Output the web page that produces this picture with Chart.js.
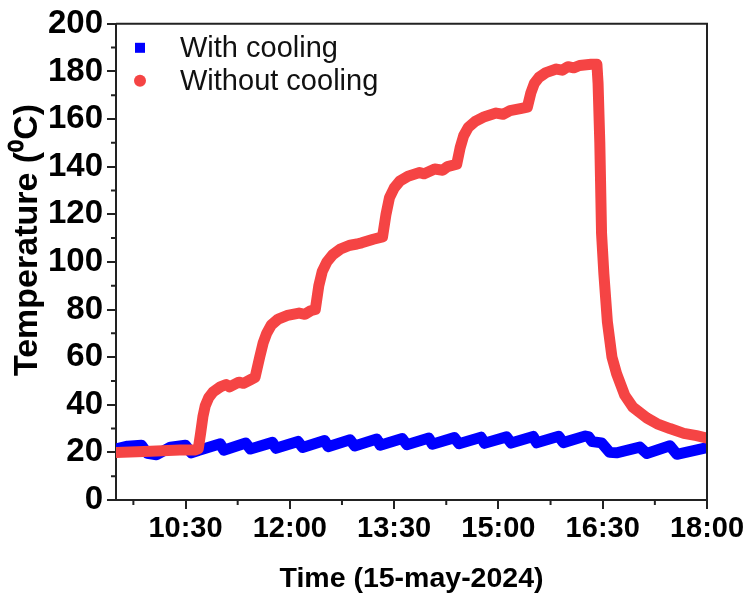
<!DOCTYPE html>
<html><head><meta charset="utf-8">
<script src="https://cdn.jsdelivr.net/npm/chart.js@4/dist/chart.umd.min.js"></script>
<style>html,body{margin:0;padding:0;background:#fff}</style>
</head><body>
<canvas id="c" width="751" height="596" style="width:751px;height:596px;display:block"></canvas>
<script>
// ---- data (time in minutes after midnight, temperature in °C) ----
const seriesNames = ['With cooling', 'Without cooling'];
const xTickValues = [630, 720, 810, 900, 990, 1080];      // 10:30 ... 18:00
const xMinorValues = [585, 675, 765, 855, 945, 1035];
const yMinorValues = [10, 30, 50, 70, 90, 110, 130, 150, 170, 190];
const xTitle = 'Time (15-may-2024)';
const yTitle = 'Temperature (\u2070C)';

const coolTimes = [570, 580, 592, 597, 605, 617, 630, 635, 641, 660, 663, 682, 686, 705, 708, 727, 731, 750, 753, 772, 776, 795, 798, 817, 821, 840, 843, 862, 866, 885, 888, 907, 911, 930, 933, 952, 956, 975, 978, 981, 989, 996, 1002, 1022, 1028, 1048, 1054, 1080];
const coolTemps = [21.5, 22.6, 23.0, 19.6, 19.0, 22.2, 23.0, 19.8, 20.8, 23.6, 20.9, 23.9, 21.4, 24.2, 21.7, 24.6, 22.1, 25.0, 22.4, 25.3, 22.7, 25.6, 23.0, 25.8, 23.2, 26.0, 23.4, 26.2, 23.6, 26.4, 23.8, 26.5, 23.9, 26.7, 24.0, 26.8, 24.1, 26.9, 26.5, 24.5, 24.0, 20.0, 19.8, 22.2, 19.5, 22.8, 19.2, 22.0];

const hotTimes = [570, 600, 625, 638, 641, 643, 645, 647, 650, 654, 660, 665, 668, 676, 680, 686, 690,
  694, 697, 700, 704, 710, 718, 728, 733, 738, 742,
  745, 748, 752, 757, 764, 772, 778, 782, 792, 800,
  803, 806, 810, 815, 822, 832, 836, 845, 852, 856, 864,
  867, 870, 874, 880, 888, 898, 904, 910, 920, 925,
  928, 931, 935, 941, 950, 955, 960, 965, 970, 980, 985,
  986, 987.5, 989, 991, 994, 998, 1002, 1009, 1016, 1028, 1037, 1048, 1060, 1071, 1080];
const hotTemps = [20.0, 20.5, 21.0, 21.0, 21.5, 28.0, 35.0, 39.5, 43.0, 45.5, 47.5, 48.5, 47.5, 49.5, 49.0, 50.5, 51.5,
  60.0, 66.0, 70.0, 73.5, 76.0, 77.5, 78.5, 78.0, 79.5, 80.0,
  90.0, 96.0, 100.0, 103.0, 105.5, 107.0, 107.5, 108.0, 109.5, 110.5,
  120.0, 127.0, 131.0, 134.0, 136.0, 137.5, 137.0, 139.0, 138.5, 140.0, 141.0,
  148.0, 153.0, 156.5, 159.0, 161.0, 162.5, 162.0, 163.5, 164.5, 165.0,
  171.0, 175.0, 177.5, 179.5, 181.0, 180.5, 182.0, 181.5, 182.5, 183.0, 183.0,
  175.0, 150.0, 112.0, 95.0, 75.0, 60.0, 53.0, 44.0, 39.0, 34.5, 32.0, 30.0, 28.0, 27.0, 26.0];

const coolColor = '#0000FF';
const hotColor = '#F54444';

function fmtTime(m) {
  const h = Math.floor(m / 60), mm = m % 60;
  return h + ':' + (mm < 10 ? '0' : '') + mm;
}
function pts(xs, ys) { return xs.map((x, i) => ({ x: x, y: ys[i] })); }

const FONT = "'Liberation Sans', Arial, sans-serif";

const framePlugin = {
  id: 'frame',
  afterDatasetsDraw(chart) {
    const ctx = chart.ctx, a = chart.chartArea;
    const xs = chart.scales.x, ys = chart.scales.y;
    ctx.save();
    ctx.strokeStyle = '#222';
    ctx.lineWidth = 2;
    ctx.beginPath();
    ctx.moveTo(a.left, a.top); ctx.lineTo(a.right, a.top); ctx.lineTo(a.right, a.bottom);
    ctx.stroke();
    ctx.beginPath();
    xMinorValues.forEach(v => { const p = xs.getPixelForValue(v); ctx.moveTo(p, a.bottom); ctx.lineTo(p, a.bottom + 5); });
    yMinorValues.forEach(v => { const p = ys.getPixelForValue(v); ctx.moveTo(a.left, p); ctx.lineTo(a.left - 5, p); });
    ctx.stroke();
    // legend
    ctx.font = '29px ' + FONT;
    ctx.textBaseline = 'middle';
    ctx.textAlign = 'left';
    const lx = a.left + 24, tx = a.left + 64;
    const y1 = a.top + 24, y2 = a.top + 57;
    ctx.fillStyle = coolColor;
    ctx.fillRect(lx - 5, y1 - 5, 10, 10);
    ctx.fillStyle = hotColor;
    ctx.beginPath(); ctx.arc(lx, y2, 6, 0, Math.PI * 2); ctx.fill();
    ctx.fillStyle = '#111';
    ctx.fillText(seriesNames[0], tx, y1 + 1);
    ctx.fillText(seriesNames[1], tx, y2 + 1);
    // y axis title
    ctx.translate(28, 240);
    ctx.rotate(-Math.PI / 2);
    ctx.textAlign = 'center';
    ctx.font = 'bold 34px ' + FONT;
    ctx.fillStyle = '#000';
    ctx.fillText(yTitle, 0, 0);
    ctx.restore();
  }
};

new Chart(document.getElementById('c'), {
  type: 'scatter',
  data: {
    datasets: [
      { label: seriesNames[1], data: pts(hotTimes, hotTemps), showLine: true, borderColor: hotColor, backgroundColor: hotColor, borderWidth: 11, pointRadius: 0, borderCapStyle: 'round', borderJoinStyle: 'round', order: 0 },
      { label: seriesNames[0], data: pts(coolTimes, coolTemps), showLine: true, borderColor: coolColor, backgroundColor: coolColor, borderWidth: 11, pointRadius: 0, borderJoinStyle: 'round', order: 1 }
    ]
  },
  options: {
    responsive: false,
    animation: false,
    devicePixelRatio: 1,
    layout: { padding: { top: 22, right: 44, left: 0, bottom: 0 } },
    plugins: { legend: { display: false }, tooltip: { enabled: false } },
    scales: {
      x: {
        type: 'linear', min: 570, max: 1080,
        afterBuildTicks: (s) => { s.ticks = xTickValues.map(v => ({ value: v })); },
        afterFit: (s) => { s.height = 96; },
        ticks: { autoSkip: false, maxRotation: 0, minRotation: 0, color: '#000', padding: 3,
                 font: { family: FONT, size: 29, weight: 'bold' }, callback: (v) => fmtTime(v) },
        grid: { drawOnChartArea: false, drawTicks: true, tickLength: 9, color: '#222', lineWidth: 2 },
        border: { display: true, color: '#222', width: 2 },
        title: { display: true, text: xTitle, color: '#000', font: { family: FONT, size: 28.5, weight: 'bold' }, padding: { top: 0, bottom: 0 } }
      },
      y: {
        min: 0, max: 200,
        ticks: { stepSize: 20, color: '#000', padding: 4, font: { family: FONT, size: 33, weight: 'bold' } },
        afterFit: (s) => { s.width = 116; },
        grid: { drawOnChartArea: false, drawTicks: true, tickLength: 9, color: '#222', lineWidth: 2 },
        border: { display: true, color: '#222', width: 2 },
        title: { display: false }
      }
    }
  },
  plugins: [framePlugin]
});
</script>
</body></html>
